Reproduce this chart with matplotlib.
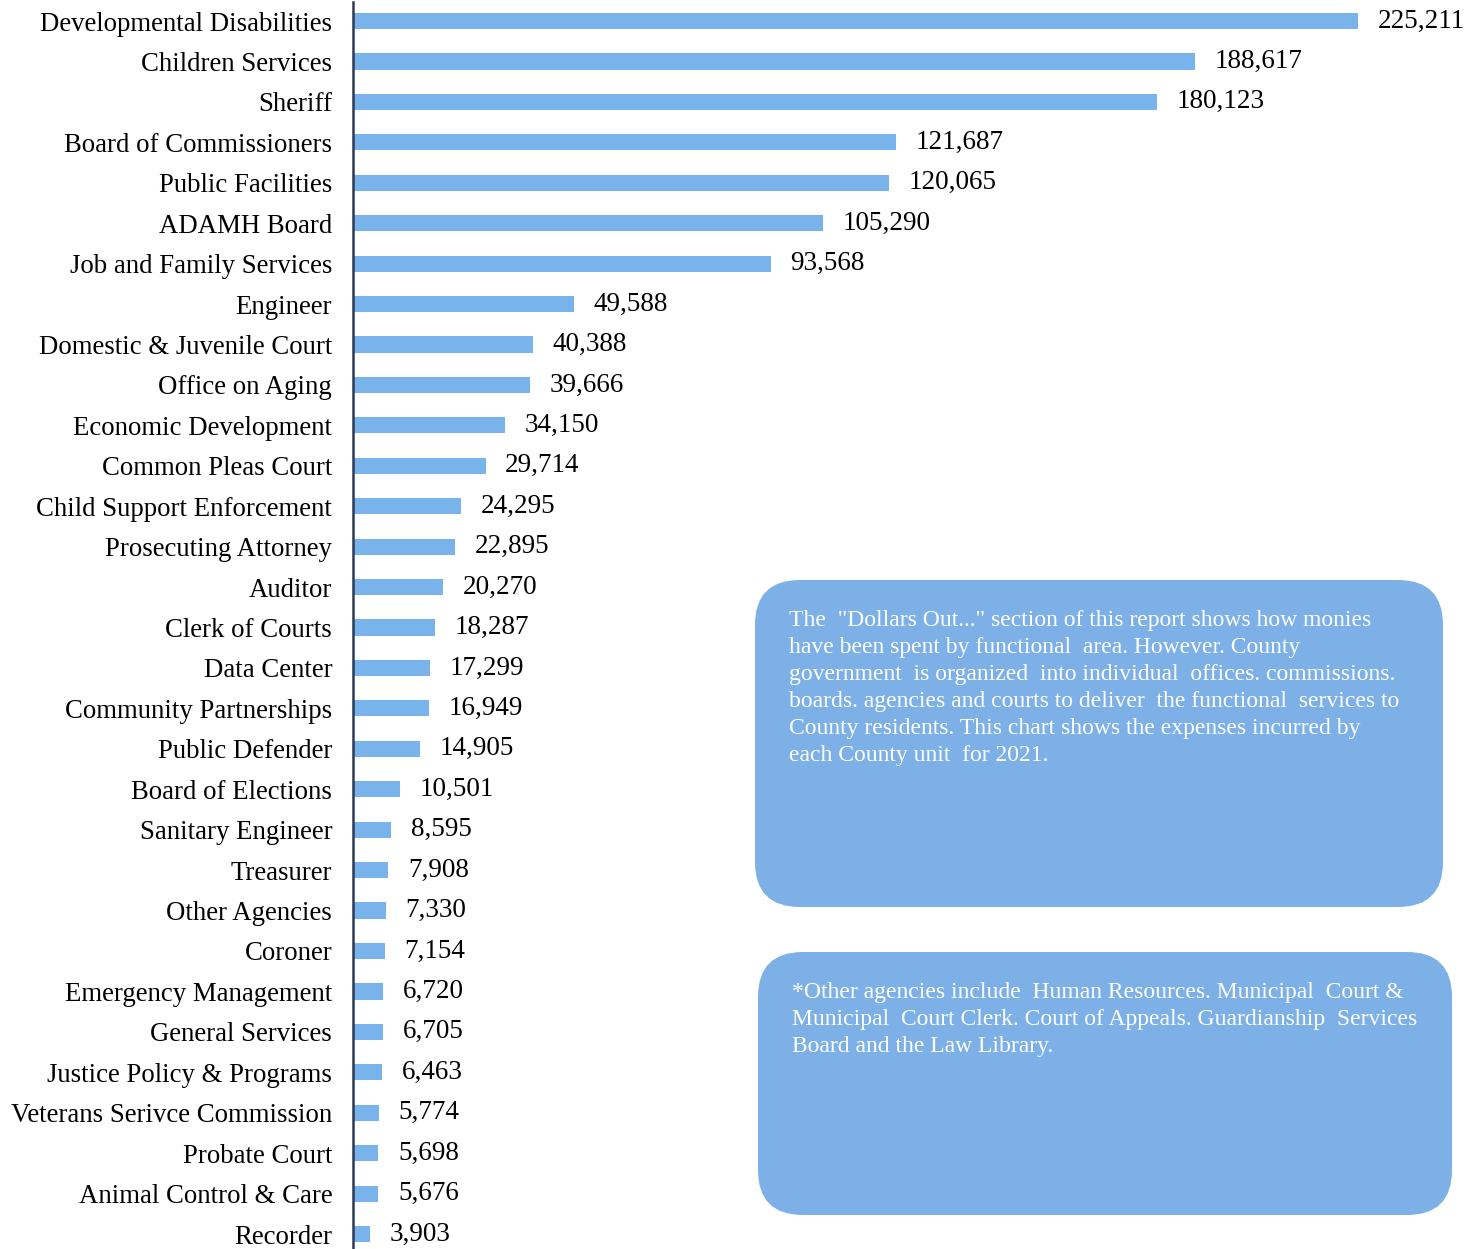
#! /usr/bin/env python
#-*- coding:utf-8 -*-

import numpy as np
from matplotlib import pyplot as plt
from matplotlib.patches import FancyBboxPatch

plt.rcParams.update({
  "font.family": 'serif',
  "font.serif": ['Liberation Serif', 'DejaVu Serif'],
})

units = [
  "Developmental Disabilities", "Children Services", "Sheriff",
  "Board of Commissioners", "Public Facilities", "ADAMH Board",
  "Job and Family Services", "Engineer", "Domestic & Juvenile Court",
  "Office on Aging", "Economic Development", "Common Pleas Court",
  "Child Support Enforcement", "Prosecuting Attorney", "Auditor",
  "Clerk of Courts", "Data Center", "Community Partnerships",
  "Public Defender", "Board of Elections", "Sanitary Engineer",
  "Treasurer", "Other Agencies", "Coroner", "Emergency Management",
  "General Services", "Justice Policy & Programs",
  "Veterans Serivce Commission", "Probate Court",
  "Animal Control & Care", "Recorder",
]
expenses = [
  225211, 188617, 180123, 121687, 120065, 105290, 93568, 49588,
  40388, 39666, 34150, 29714, 24295, 22895, 20270, 18287, 17299,
  16949, 14905, 10501, 8595, 7908, 7330, 7154, 6720, 6705, 6463,
  5774, 5698, 5676, 3903,
]

note1 = ('The  "Dollars Out..." section of this report shows how monies\n'
         'have been spent by functional  area. However. County\n'
         'government  is organized  into individual  offices. commissions.\n'
         'boards. agencies and courts to deliver  the functional  services to\n'
         'County residents. This chart shows the expenses incurred by\n'
         'each County unit  for 2021.')
note2 = ('*Other agencies include  Human Resources. Municipal  Court &\n'
         'Municipal  Court Clerk. Court of Appeals. Guardianship  Services\n'
         'Board and the Law Library.')

W, H = 1483, 1249
fig = plt.figure(figsize=(W/100, H/100), dpi=100)
ax = fig.add_axes([353/W, 0, 1 - 353/W, 1 - 2/H])

y = np.arange(len(units))
ax.barh(y, expenses, height=0.4, color='#78b3ec')
ax.set_ylim(len(units) - 1 + 0.37, -0.47)
ax.set_xlim(0, 253200)
ax.set_yticks(y)
ax.set_yticklabels(units, fontsize=19.3)
ax.tick_params(axis='y', length=0, pad=15)
ax.set_xticks([])
for s in ['top', 'right', 'bottom']:
  ax.spines[s].set_visible(False)
ax.spines['left'].set_color('#2b3a55')
ax.spines['left'].set_linewidth(1.8)
for yi, v in zip(y, expenses):
  ax.text(v + 4400, yi, f"{v:,}", va='center', ha='left', fontsize=19.5)

# overlay in pixel coords for the note boxes
ov = fig.add_axes([0, 0, 1, 1])
ov.set_xlim(0, W)
ov.set_ylim(H, 0)
ov.axis('off')
ov.patch.set_alpha(0)
for (x0, y0, x1, y1), txt in [((755, 580, 1443, 907), note1),
                              ((758, 952, 1452, 1215), note2)]:
  ov.add_patch(FancyBboxPatch((x0, y0), x1 - x0, y1 - y0,
                              boxstyle='round,pad=0,rounding_size=45',
                              fc='#7cb0e6', ec='none'))
  ov.text(x0 + 34, y0 + 30, txt, color='white', fontsize=17,
          va='top', ha='left', linespacing=1.37)

fig.savefig('out.png', dpi=100)
